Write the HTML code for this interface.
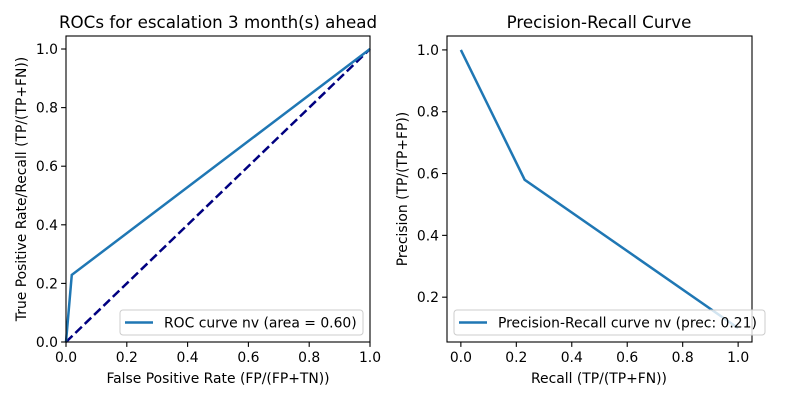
<!DOCTYPE html>
<html><head><meta charset="utf-8"><style>
body{margin:0;background:#fff;}
svg{display:block;font-family:"DejaVu Sans","Liberation Sans",sans-serif;}
</style></head><body>
<svg id="c" width="800" height="400"></svg>
<script>
const rocFpr=[0,0.019,1];
const rocTpr=[0,0.229,1];
const chanceX=[0,1];
const chanceY=[0,1];
const prRecall=[0,0.23,1];
const prPrecision=[1,0.58,0.1];
const rocTicks=[0,0.2,0.4,0.6,0.8,1.0];
const prXTicks=[0,0.2,0.4,0.6,0.8,1.0];
const prYTicks=[0.2,0.4,0.6,0.8,1.0];
const rocLegend="ROC curve nv (area = 0.60)";
const prLegend="Precision-Recall curve nv (prec: 0.21)";

const svg=document.getElementById('c');
const NS='http://www.w3.org/2000/svg';
const FS=13.9, TFS=16.7;
function el(t,a,txt){const e=document.createElementNS(NS,t);for(const k in a)e.setAttribute(k,a[k]);if(txt!==undefined)e.textContent=txt;svg.appendChild(e);return e;}
function axes(x0,x1,y0,y1,xmin,xmax,ymin,ymax){
  return {sx:v=>x0+(v-xmin)/(xmax-xmin)*(x1-x0),sy:v=>y1-(v-ymin)/(ymax-ymin)*(y1-y0),x0,x1,y0,y1};
}
function frame(A,name){
  const r=el('rect',{x:A.x0,y:A.y0,width:A.x1-A.x0,height:A.y1-A.y0,fill:'none',stroke:'#000','stroke-width':1.1});
  
  
}
function xticks(A,ticks,name){
  ticks.forEach(t=>{const x=A.sx(t);
    el('line',{x1:x,x2:x,y1:A.y1,y2:A.y1+4.9,stroke:'#000','stroke-width':1.1});
    const tx=el('text',{x:x,y:A.y1+20,'font-size':FS,'text-anchor':'middle'},t.toFixed(1));
    
    });
}
function yticks(A,ticks,name){
  ticks.forEach(t=>{const y=A.sy(t);
    el('line',{x1:A.x0-4.9,x2:A.x0,y1:y,y2:y,stroke:'#000','stroke-width':1.1});
    const tx=el('text',{x:A.x0-8,y:y+5,'font-size':FS,'text-anchor':'end'},t.toFixed(1));
    
    });
}
function line(A,xs,ys,attrs,name){
  const p=el('polyline',Object.assign({points:xs.map((x,i)=>A.sx(x)+','+A.sy(ys[i])).join(' '),fill:'none'},attrs));
  
  
}
function label(x,y,txt,size,rot,name){
  const a={x:x,y:y,'font-size':size,'text-anchor':'middle'};
  if(rot)a.transform='rotate(-90 '+x+' '+y+')';
  const t=el('text',a,txt);
  
  
}
function legend(x,y,w,txt,name){
  const g=el('rect',{x:x,y:y,width:w,height:25,rx:3,fill:'#fff','fill-opacity':0.8,stroke:'#ccc','stroke-width':1});
  
  
  el('line',{x1:x+5,x2:x+33,y1:y+12.5,y2:y+12.5,stroke:'#1f77b4','stroke-width':2.5});
  const t=el('text',{x:x+44,y:y+17.5,'font-size':FS},txt);
  
  
}

// ROC
const L=axes(66,370,36,342,0,1,0,1.0444);
line(L,chanceX,chanceY,{stroke:'#000080','stroke-width':2.5,'stroke-dasharray':'9,4'},'chance-line');
line(L,rocFpr,rocTpr,{stroke:'#1f77b4','stroke-width':2.5},'roc-curve');
frame(L,'roc-axes');
xticks(L,rocTicks,'roc-x-tick');yticks(L,rocTicks,'roc-y-tick');
label(218,28,'ROCs for escalation 3 month(s) ahead',TFS,false,'roc-title');
label(218,383,'False Positive Rate (FP/(FP+TN))',FS,false,'roc-x-axis-title');
label(26,189,'True Positive Rate/Recall (TP/(TP+FN))',FS,true,'roc-y-axis-title');
legend(120,310,243,rocLegend,'roc-legend');

// PR
const R=axes(447,752,36,342,-0.05,1.05,0.055,1.045);
line(R,prRecall,prPrecision,{stroke:'#1f77b4','stroke-width':2.5},'pr-curve');
frame(R,'pr-axes');
xticks(R,prXTicks,'pr-x-tick');yticks(R,prYTicks,'pr-y-tick');
label(599,28,'Precision-Recall Curve',TFS,false,'pr-title');
label(599,383,'Recall (TP/(TP+FN))',FS,false,'pr-x-axis-title');
label(407,189,'Precision (TP/(TP+FP))',FS,true,'pr-y-axis-title');
legend(454,310,311,prLegend,'pr-legend');
</script>
</body></html>
